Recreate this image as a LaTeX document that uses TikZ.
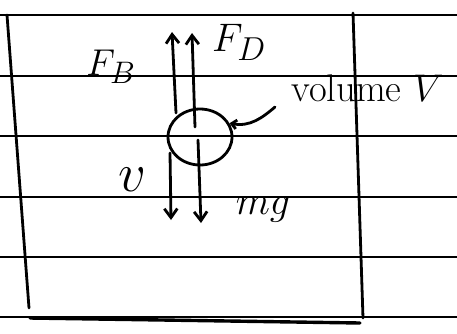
\documentclass[tikz,border=0pt]{standalone}
\usetikzlibrary{arrows.meta,shapes.geometric}

\begin{document}
\begin{tikzpicture}[x=1pt,y=-1pt,>={Straight Barb[length=9pt,width=13pt]},
  ink/.style={line width=2.8pt,line cap=round},
  rule/.style={line width=1.5pt},
  big/.style={font=\Huge,inner sep=0pt}]
  \useasboundingbox (0,0) rectangle (457,333);
  \foreach \y in {15,76,136,197,257,317}
    \draw[rule] (0,\y)--(457,\y);
  \draw[ink] (7,15)--(29,308);
  \draw[ink] (353,13)--(363,318);
  \draw[ink,line width=3.4pt] (30,318)--(360,323);
  \node[draw,ellipse,ink,minimum width=64pt,minimum height=56pt,inner sep=0pt] (ball) at (200,137){};
  \coordinate (FB0) at (176,113);
  \coordinate (FB1) at (172,32);
  \coordinate (FD0) at (195,127);
  \coordinate (FD1) at (192,33);
  \coordinate (V0) at (170,153);
  \coordinate (V1) at (171,220);
  \coordinate (W0) at (198,140);
  \coordinate (W1) at (201,223);
  \coordinate (T) at (275,107);
  \draw[ink,->] (FB0)--(FB1);
  \draw[ink,->] (FD0)--(FD1);
  \draw[ink,->] (V0)--(V1);
  \draw[ink,->] (W0)--(W1);
  \draw[ink,{Straight Barb[length=5pt,width=9pt]}-] (ball.25) .. controls (250,127) and (262,118) .. (T);
  \node[big,scale=1.5] (fb) at (111,67){$F_B$};
  \node[big,scale=1.6] (fd) at (239,42){$F_D$};
  \node[big,scale=2.2] (v) at (132,180){$v$};
  \node[big,scale=1.6] (mg) at (263,210){$mg$};
  \node[big,scale=1.55,anchor=base west] (vol) at (291,101){volume $V$};
\end{tikzpicture}
\end{document}
